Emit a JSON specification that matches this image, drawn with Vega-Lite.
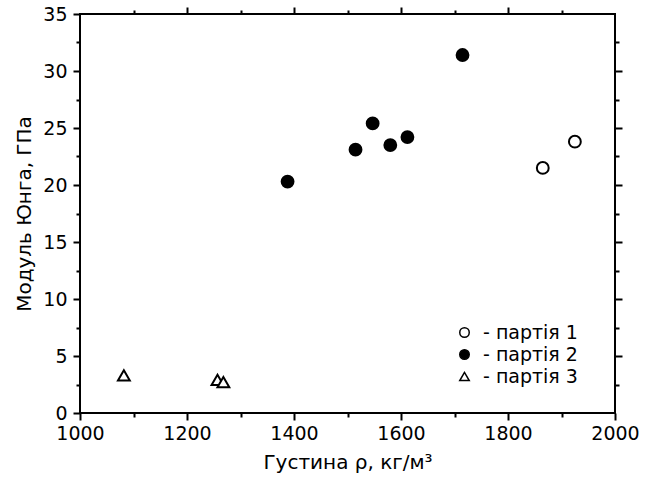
{
  "$schema": "https://vega.github.io/schema/vega-lite/v6.json",
  "autosize": "none",
  "width": 535,
  "height": 399,
  "padding": {"left": 80, "top": 14, "right": 42, "bottom": 67},
  "background": "white",
  "config": {
    "view": {"stroke": "black", "strokeWidth": 2},
    "font": "DejaVu Sans",
    "axis": {"grid": false, "domain": false, "labelFlush": false, "tickColor": "black", "tickWidth": 2, "labelColor": "black", "titleColor": "black", "labelFont": "DejaVu Sans", "titleFont": "DejaVu Sans", "labelFontSize": 19, "titleFontSize": 20, "titleFontWeight": "normal"}
  },
  "data": {
    "values": [
      {"rho": 1865, "E": 21.5, "batch": "партія 1"},
      {"rho": 1925, "E": 23.8, "batch": "партія 1"},
      {"rho": 1388, "E": 20.3, "batch": "партія 2"},
      {"rho": 1515, "E": 23.1, "batch": "партія 2"},
      {"rho": 1547, "E": 25.4, "batch": "партія 2"},
      {"rho": 1580, "E": 23.5, "batch": "партія 2"},
      {"rho": 1612, "E": 24.2, "batch": "партія 2"},
      {"rho": 1715, "E": 31.4, "batch": "партія 2"},
      {"rho": 1082, "E": 3.3, "batch": "партія 3"},
      {"rho": 1257, "E": 2.9, "batch": "партія 3"},
      {"rho": 1268, "E": 2.7, "batch": "партія 3"}
    ]
  },
  "resolve": {"axis": {"x": "independent", "y": "independent"}},
  "layer": [
    {
      "mark": {"type": "point", "opacity": 0},
      "encoding": {
        "x": {"field": "rho", "type": "quantitative", "scale": {"domain": [1000, 2000], "nice": false, "zero": false},
          "axis": {"orient": "top", "values": [1200, 1400, 1600, 1800], "labels": false, "tickSize": 7, "title": null,
            "encode": {"ticks": {"update": {"y2": {"value": 7}}}}}},
        "y": {"field": "E", "type": "quantitative", "scale": {"domain": [0, 35], "nice": false},
          "axis": {"orient": "right", "values": [5, 10, 15, 20, 25, 30], "labels": false, "tickSize": 7, "title": null,
            "encode": {"ticks": {"update": {"x2": {"value": -7}}}}}}
      }
    },
    {
      "mark": {"type": "point", "opacity": 0},
      "encoding": {
        "x": {"field": "rho", "type": "quantitative",
          "axis": {"orient": "bottom", "values": [1100, 1300, 1500, 1700, 1900], "labels": false, "tickSize": 4, "title": null,
            "encode": {"ticks": {"update": {"y2": {"value": -4}}}}}},
        "y": {"field": "E", "type": "quantitative",
          "axis": {"orient": "left", "values": [2.5, 7.5, 12.5, 17.5, 22.5, 27.5, 32.5], "labels": false, "tickSize": 4, "title": null,
            "encode": {"ticks": {"update": {"x2": {"value": 4}}}}}}
      }
    },
    {
      "mark": {"type": "point", "opacity": 0},
      "encoding": {
        "x": {"field": "rho", "type": "quantitative",
          "axis": {"orient": "top", "values": [1100, 1300, 1500, 1700, 1900], "labels": false, "tickSize": 4, "title": null,
            "encode": {"ticks": {"update": {"y2": {"value": 4}}}}}},
        "y": {"field": "E", "type": "quantitative",
          "axis": {"orient": "right", "values": [2.5, 7.5, 12.5, 17.5, 22.5, 27.5, 32.5], "labels": false, "tickSize": 4, "title": null,
            "encode": {"ticks": {"update": {"x2": {"value": -4}}}}}}
      }
    },
    {
      "mark": {"type": "point", "filled": false, "stroke": "black", "strokeWidth": 2, "size": 140, "opacity": 1},
      "encoding": {
        "x": {"field": "rho", "type": "quantitative",
          "axis": {"orient": "bottom", "values": [1000, 1200, 1400, 1600, 1800, 2000], "format": "d", "tickSize": 7, "labelPadding": 4, "title": "Густина ρ, кг/м³", "titlePadding": 9,
            "encode": {"ticks": {"update": {"y2": {"value": -7}}}}}},
        "y": {"field": "E", "type": "quantitative",
          "axis": {"orient": "left", "values": [0, 5, 10, 15, 20, 25, 30, 35], "format": "d", "tickSize": 7, "labelPadding": 6, "title": "Модуль Юнга, ГПа", "titlePadding": 8,
            "encode": {"ticks": {"update": {"x2": {"value": 7}}}}}},
        "shape": {"field": "batch", "type": "nominal",
          "scale": {"domain": ["партія 1", "партія 2", "партія 3"], "range": ["circle", "circle", "triangle-up"]},
          "legend": {"orient": "none", "legendX": 375, "legendY": 309, "title": null, "labelExpr": "'- ' + datum.label", "labelFontSize": 19, "labelColor": "black", "labelFont": "DejaVu Sans", "symbolSize": 90, "rowPadding": 2, "labelOffset": 9,
            "encode": {"symbols": {"update": {"stroke": {"value": "black"}, "strokeWidth": {"value": 1.5}}}}}},
        "fill": {"field": "batch", "type": "nominal",
          "scale": {"domain": ["партія 1", "партія 2", "партія 3"], "range": ["white", "black", "white"]},
          "legend": {"orient": "none", "legendX": 375, "legendY": 309, "title": null, "labelExpr": "'- ' + datum.label", "labelFontSize": 19, "labelColor": "black", "labelFont": "DejaVu Sans", "symbolSize": 90, "rowPadding": 2, "labelOffset": 9,
            "encode": {"symbols": {"update": {"stroke": {"value": "black"}, "strokeWidth": {"value": 1.5}}}}}}
      }
    }
  ]
}
